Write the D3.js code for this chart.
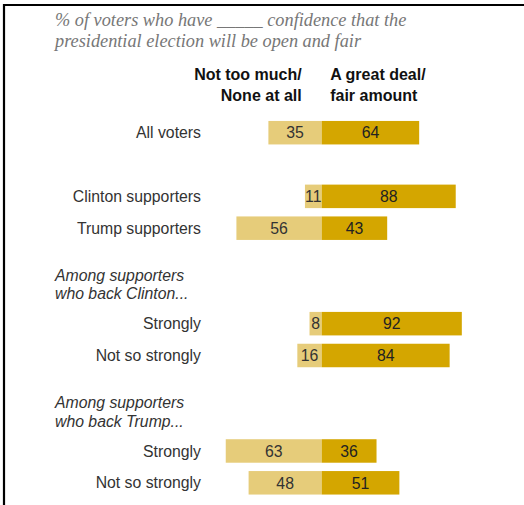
<!DOCTYPE html>
<html>
<head>
<meta charset="utf-8">
<script src="https://cdn.jsdelivr.net/npm/d3@7"></script>
<style>
  html, body { margin: 0; padding: 0; background: #fff; }
  svg { display: block; }
</style>
</head>
<body>
<script>
// Rows of the chart, top to bottom
const categories = ["All voters", "Clinton supporters", "Trump supporters",
                    "Strongly", "Not so strongly", "Strongly", "Not so strongly"];
// Vertical slot of each row (gaps leave room for group headings)
const slots = [0, 2, 3, 6, 7, 10, 11];
const notConfident = [35, 11, 56, 8, 16, 63, 48];   // Not too much / None at all
const confident    = [64, 88, 43, 92, 84, 36, 51];  // A great deal / fair amount

const titleLines = ["% of voters who have _____ confidence that the",
                    "presidential election will be open and fair"];
const leftHeader = ["Not too much/", "None at all"];
const rightHeader = ["A great deal/", "fair amount"];
const groupHeadings = [
  {lines: ["Among supporters", "who back Clinton..."], slot: 4.65},
  {lines: ["Among supporters", "who back Trump..."], slot: 8.65}
];

const W = 524, H = 505;
const colLight = "#E6CC7A", colDark = "#D4A600";
const textCol = "#333333";
const sans = "Liberation Sans, Arial, sans-serif";
const fs = 15.8;

const svg = d3.select("body").append("svg")
  .attr("width", W).attr("height", H);

// Frame lines (top and left)
svg.append("line").attr("x1", 3).attr("x2", W).attr("y1", 5).attr("y2", 5)
  .attr("stroke", "#000").attr("stroke-width", 2.2);
svg.append("line").attr("x1", 4).attr("x2", 4).attr("y1", 4).attr("y2", H)
  .attr("stroke", "#000").attr("stroke-width", 2.2);

// Scales
const x = d3.scaleLinear().domain([-100, 100]).range([321.7 - 152.3, 321.7 + 152.3]);
const y = d3.scaleLinear().domain([0, 11]).range([132.7, 482.8]);
const barH = 23.5;

// Title
svg.append("text")
  .attr("font-family", "Liberation Serif, serif")
  .attr("font-style", "italic")
  .attr("font-size", 18.3)
  .attr("fill", "#777")
  .selectAll("tspan").data(titleLines).join("tspan")
  .attr("x", 55).attr("y", (d, i) => 26 + i * 21)
  .text(d => d);

// Column headers
const hdr = svg.append("g")
  .attr("font-family", sans)
  .attr("font-weight", "bold").attr("font-size", 16).attr("fill", "#111");
hdr.selectAll("text.l").data(leftHeader).join("text")
  .attr("class", "l").attr("x", x(0) - 20).attr("y", (d, i) => 80 + i * 20.5)
  .attr("text-anchor", "end").text(d => d);
hdr.selectAll("text.r").data(rightHeader).join("text")
  .attr("class", "r").attr("x", x(0) + 8.5).attr("y", (d, i) => 80 + i * 20.5)
  .attr("text-anchor", "start").text(d => d);

// Group headings
const gh = svg.append("g")
  .attr("font-family", sans)
  .attr("font-style", "italic").attr("font-size", fs).attr("fill", textCol);
groupHeadings.forEach(g => {
  gh.append("text").selectAll("tspan").data(g.lines).join("tspan")
    .attr("x", 55).attr("y", (d, i) => y(g.slot) + i * 18.5)
    .text(d => d);
});

const rows = categories.map((c, i) => ({
  cat: c, slot: slots[i], neg: notConfident[i], pos: confident[i]
}));

const rowG = svg.append("g").selectAll("g").data(rows).join("g")
  .attr("transform", d => `translate(0,${y(d.slot)})`);

// Category labels
rowG.append("text")
  .attr("x", 201).attr("y", 0).attr("dy", "0.35em")
  .attr("text-anchor", "end")
  .attr("font-family", sans)
  .attr("font-size", fs).attr("fill", textCol)
  .text(d => d.cat);

// Bars
rowG.append("rect")
  .attr("x", d => x(-d.neg)).attr("width", d => x(0) - x(-d.neg))
  .attr("y", -barH / 2).attr("height", barH)
  .attr("fill", colLight);
rowG.append("rect")
  .attr("x", x(0)).attr("width", d => x(d.pos) - x(0))
  .attr("y", -barH / 2).attr("height", barH)
  .attr("fill", colDark);

// Value labels
rowG.append("text")
  .attr("x", d => (x(-d.neg) + x(0)) / 2).attr("y", 0).attr("dy", "0.36em")
  .attr("text-anchor", "middle")
  .attr("font-family", sans).attr("font-size", fs)
  .attr("fill", textCol)
  .text(d => d.neg);
rowG.append("text")
  .attr("x", d => (x(d.pos) + x(0)) / 2).attr("y", 0).attr("dy", "0.36em")
  .attr("text-anchor", "middle")
  .attr("font-family", sans).attr("font-size", fs)
  .attr("fill", "#222")
  .text(d => d.pos);
</script>
</body>
</html>
